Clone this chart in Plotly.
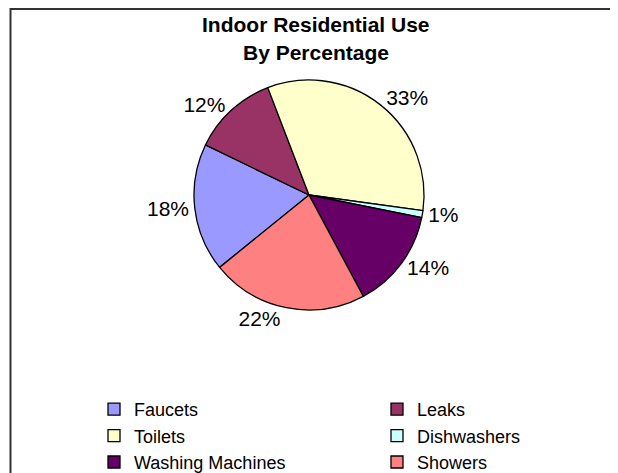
import plotly.graph_objects as go

categories = ["Faucets", "Leaks", "Toilets", "Dishwashers", "Washing Machines", "Showers"]
values = [18, 12, 33, 1, 14, 22]
colors = ["#9999FF", "#993366", "#FFFFCC", "#CCFFFF", "#660066", "#FF8080"]
title_lines = ["Indoor Residential Use", "By Percentage"]

W, H = 618, 473
FONT = "Liberation Sans, Arial, sans-serif"

fig = go.Figure(go.Pie(
    labels=categories,
    values=values,
    sort=False,
    direction="clockwise",
    rotation=231,
    marker=dict(colors=colors, line=dict(color="#000000", width=1.3)),
    textinfo="percent",
    texttemplate="%{percent:.0%}",
    textposition="outside",
    outsidetextfont=dict(family=FONT, size=21, color="#000000"),
    domain=dict(x=[186 / W, 416 / W], y=[1 - 302 / H, 1 - 72 / H]),
    hoverinfo="label+percent",
))

fig.update_layout(
    width=W, height=H,
    margin=dict(l=0, r=0, t=0, b=0, autoexpand=False),
    paper_bgcolor="white",
    plot_bgcolor="white",
    showlegend=True,
    legend=dict(
        orientation="h",
        entrywidth=238, entrywidthmode="pixels",
        x=86 / W, xanchor="left",
        y=0, yanchor="bottom",
        font=dict(family=FONT, size=18, color="#000000"),
        bgcolor="rgba(0,0,0,0)",
        traceorder="normal",
        itemclick=False,
    ),
    annotations=[
        dict(text="<b>%s</b>" % title_lines[0], x=308 / W, y=1 - 17 / H, xref="paper", yref="paper",
             xanchor="center", yanchor="middle", showarrow=False,
             font=dict(family=FONT, size=21, color="#000000")),
        dict(text="<b>%s</b>" % title_lines[1], x=308 / W, y=1 - 45 / H, xref="paper", yref="paper",
             xanchor="center", yanchor="middle", showarrow=False,
             font=dict(family=FONT, size=21, color="#000000")),
    ],
    shapes=[
        dict(type="line", xref="paper", yref="paper", x0=2 / W, x1=1.0, y0=1 - 1 / H, y1=1 - 1 / H,
             line=dict(color="#333333", width=2)),
        dict(type="line", xref="paper", yref="paper", x0=2.5 / W, x1=2.5 / W, y0=1, y1=0,
             line=dict(color="#333333", width=2)),
    ],
)

fig.write_html("out.html")
